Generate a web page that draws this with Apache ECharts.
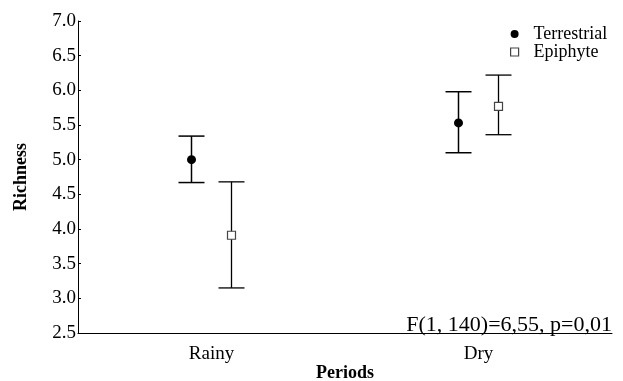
<!DOCTYPE html>
<html>
<head>
<meta charset="utf-8">
<script src="https://cdn.jsdelivr.net/npm/echarts@6/dist/echarts.min.js"></script>
<style>
  html, body { margin: 0; padding: 0; background: #fff; }
  #chart { width: 623px; height: 381px; }
</style>
</head>
<body>
<div id="chart"></div>
<script>
// periods on the x axis
const periods = ['Rainy', 'Dry'];
const yTicks = ['2.5', '3.0', '3.5', '4.0', '4.5', '5.0', '5.5', '6.0', '6.5', '7.0'];

// mean richness and error bar ends, one value per period
const terrestrialMean = [5.0, 5.53];
const terrestrialLow = [4.67, 5.10];
const terrestrialHigh = [5.34, 5.98];

const epiphyteMean = [3.91, 5.77];
const epiphyteLow = [3.15, 5.36];
const epiphyteHigh = [4.68, 6.22];

const statText = 'F(1, 140)=6,55, p=0,01';

const serif = '"Liberation Serif", "Times New Roman", serif';

// draws one vertical bar with caps, shifted sideways by offset px
function errorBar(offset, width) {
    return function (params, api) {
        const i = api.value(0);
        const lo = api.coord([i, api.value(1)]);
        const hi = api.coord([i, api.value(2)]);
        const x = lo[0] + offset;
        const st = { stroke: '#000', lineWidth: width };
        return {
            type: 'group',
            children: [
                { type: 'line', shape: { x1: x, y1: lo[1], x2: x, y2: hi[1] }, style: st },
                { type: 'line', shape: { x1: x - 13, y1: lo[1], x2: x + 13, y2: lo[1] }, style: st },
                { type: 'line', shape: { x1: x - 13, y1: hi[1], x2: x + 13, y2: hi[1] }, style: st }
            ]
        };
    };
}

const chart = echarts.init(document.getElementById('chart'));
chart.setOption({
    animation: false,
    backgroundColor: '#fff',
    grid: { left: 78, right: 11, top: 21, bottom: 48, outerBoundsMode: 'none', containLabel: false },
    legend: {
        orient: 'vertical',
        left: 505,
        top: 20,
        itemWidth: 8,
        itemHeight: 8,
        itemGap: 0,
        textStyle: { fontFamily: serif, fontSize: 18, color: '#000', lineHeight: 17, padding: [0, 0, 0, 10] },
        data: [
            { name: 'Terrestrial', icon: 'circle', itemStyle: { color: '#000' } },
            { name: 'Epiphyte', icon: 'rect', itemStyle: { color: '#fff', borderColor: '#444', borderWidth: 1.2 } }
        ]
    },
    xAxis: {
        type: 'category',
        data: periods,
        name: 'Periods',
        nameLocation: 'middle',
        nameGap: 31,
        nameMoveOverlap: false,
        nameTextStyle: { fontFamily: serif, fontSize: 18, fontWeight: 'bold', color: '#000' },
        axisLine: { lineStyle: { color: '#000', width: 1 } },
        axisTick: { alignWithLabel: true, inside: true, length: 3, lineStyle: { color: '#000' } },
        axisLabel: { fontFamily: serif, fontSize: 19, color: '#000', margin: 12 }
    },
    yAxis: {
        type: 'value',
        min: 2.5,
        max: 7.0,
        interval: 0.5,
        name: 'Richness',
        nameLocation: 'middle',
        nameGap: 48,
        nameRotate: 90,
        nameTextStyle: { fontFamily: serif, fontSize: 18, fontWeight: 'bold', color: '#000' },
        splitLine: { show: false },
        axisLine: { show: true, lineStyle: { color: '#000', width: 1 } },
        axisTick: { show: true, inside: true, length: 3, lineStyle: { color: '#000' } },
        axisLabel: {
            fontFamily: serif, fontSize: 19, color: '#000', margin: 2,
            formatter: v => yTicks.find(t => Math.abs(parseFloat(t) - v) < 1e-6) || ''
        }
    },
    series: [
        {
            name: 'Terrestrial bars',
            type: 'custom',
            renderItem: errorBar(-20, 1.5),
            data: periods.map((p, i) => [i, terrestrialLow[i], terrestrialHigh[i]]),
            z: 2
        },
        {
            name: 'Epiphyte bars',
            type: 'custom',
            renderItem: errorBar(20, 1.3),
            data: periods.map((p, i) => [i, epiphyteLow[i], epiphyteHigh[i]]),
            z: 2
        },
        {
            name: 'Terrestrial',
            type: 'scatter',
            symbol: 'circle',
            symbolSize: 9,
            symbolOffset: [-20, 0],
            itemStyle: { color: '#000', opacity: 1 },
            data: terrestrialMean,
            z: 5
        },
        {
            name: 'Epiphyte',
            type: 'scatter',
            symbol: 'rect',
            symbolSize: 8,
            symbolOffset: [20, 0],
            itemStyle: { color: '#fff', borderColor: '#444', borderWidth: 1.2, opacity: 1 },
            data: epiphyteMean,
            z: 5
        }
    ],
    graphic: [
        {
            type: 'text',
            right: 11,
            top: 314,
            style: { text: statText, font: '22px ' + serif, fill: '#000' }
        }
    ]
});
</script>
</body>
</html>
